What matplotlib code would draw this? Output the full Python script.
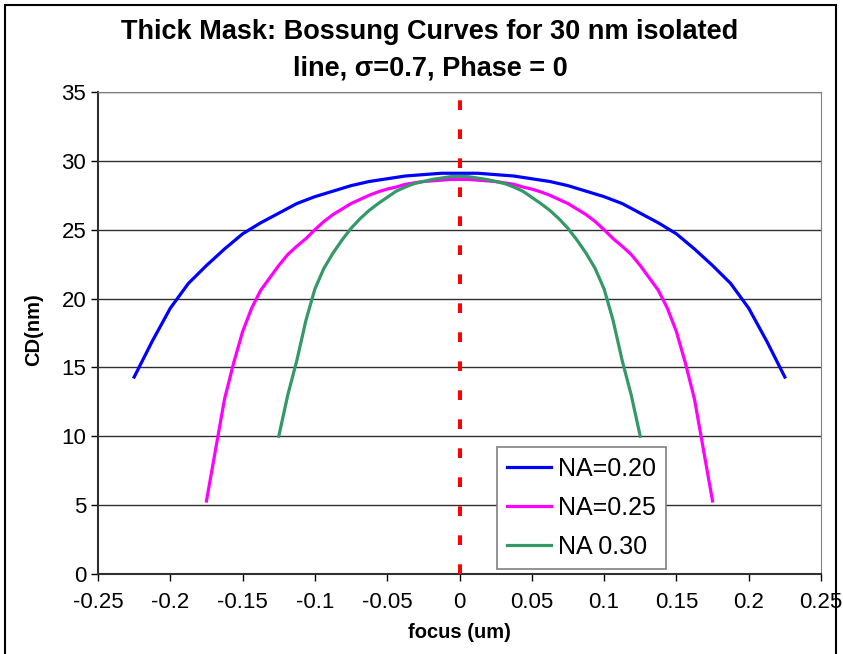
import matplotlib.pyplot as plt
from matplotlib.patches import Rectangle

plt.rcParams['font.family'] = ['Liberation Sans', 'DejaVu Sans']

# focus (um) and CD (nm) for each numerical aperture
focus_020 = [-0.225, -0.2125, -0.2, -0.1875, -0.175, -0.1625, -0.15, -0.1375, -0.125,
             -0.1125, -0.1, -0.0875, -0.075, -0.0625, -0.05, -0.0375, -0.025, -0.0125, 0.0,
             0.0125, 0.025, 0.0375, 0.05, 0.0625, 0.075, 0.0875, 0.1, 0.1125, 0.125,
             0.1375, 0.15, 0.1625, 0.175, 0.1875, 0.2, 0.2125, 0.225]
cd_020 = [14.3, 16.9, 19.3, 21.1, 22.4, 23.6, 24.7, 25.5, 26.2,
          26.9, 27.4, 27.8, 28.2, 28.5, 28.7, 28.9, 29.0, 29.1, 29.1,
          29.1, 29.0, 28.9, 28.7, 28.5, 28.2, 27.8, 27.4, 26.9, 26.2,
          25.5, 24.7, 23.6, 22.4, 21.1, 19.3, 16.9, 14.3]

focus_025 = [-0.175, -0.16875, -0.1625, -0.15625, -0.15, -0.14375, -0.1375, -0.13125,
             -0.125, -0.11875, -0.1125, -0.10625, -0.1, -0.09375, -0.0875, -0.08125,
             -0.075, -0.06875, -0.0625, -0.05625, -0.05, -0.04375, -0.0375, -0.03125,
             -0.025, -0.01875, -0.0125, -0.00625, 0.0,
             0.00625, 0.0125, 0.01875, 0.025, 0.03125, 0.0375, 0.04375, 0.05, 0.05625,
             0.0625, 0.06875, 0.075, 0.08125, 0.0875, 0.09375, 0.1, 0.10625, 0.1125,
             0.11875, 0.125, 0.13125, 0.1375, 0.14375, 0.15, 0.15625, 0.1625, 0.16875, 0.175]
cd_025 = [5.3, 9.0, 12.7, 15.3, 17.6, 19.3, 20.6, 21.5,
          22.4, 23.2, 23.8, 24.35, 25.0, 25.6, 26.1, 26.5,
          26.9, 27.2, 27.5, 27.75, 27.95, 28.1, 28.3, 28.4,
          28.5, 28.55, 28.6, 28.65, 28.65,
          28.65, 28.6, 28.55, 28.5, 28.4, 28.3, 28.1, 27.95, 27.75,
          27.5, 27.2, 26.9, 26.5, 26.1, 25.6, 25.0, 24.35, 23.8,
          23.2, 22.4, 21.5, 20.6, 19.3, 17.6, 15.3, 12.7, 9.0, 5.3]

focus_030 = [-0.125, -0.11875, -0.1125, -0.10625, -0.1, -0.09375, -0.0875, -0.08125,
             -0.075, -0.06875, -0.0625, -0.05625, -0.05, -0.04375, -0.0375, -0.03125,
             -0.025, -0.01875, -0.0125, -0.00625, 0.0,
             0.00625, 0.0125, 0.01875, 0.025, 0.03125, 0.0375, 0.04375, 0.05, 0.05625,
             0.0625, 0.06875, 0.075, 0.08125, 0.0875, 0.09375, 0.1, 0.10625, 0.1125,
             0.11875, 0.125]
cd_030 = [10.0, 13.0, 15.5, 18.4, 20.7, 22.2, 23.3, 24.25,
          25.1, 25.8, 26.4, 26.9, 27.35, 27.8, 28.1, 28.35,
          28.5, 28.65, 28.75, 28.85, 28.87,
          28.85, 28.75, 28.65, 28.5, 28.35, 28.1, 27.8, 27.35, 26.9,
          26.4, 25.8, 25.1, 24.25, 23.3, 22.2, 20.7, 18.4, 15.5,
          13.0, 10.0]

fig = plt.figure(figsize=(8.43, 6.54), dpi=100)
ax = fig.add_axes([98 / 843, 1 - 574 / 654, 723 / 843, 482 / 654])

# black frame round the whole chart
fig.patches.append(Rectangle((5 / 843, -0.05), 831 / 843, 1.05 - 5 / 654,
                             transform=fig.transFigure, fill=False,
                             edgecolor='black', linewidth=1.5))

ax.plot(focus_020, cd_020, color='#0000FF', linewidth=2.3, label='NA=0.20')
ax.plot(focus_025, cd_025, color='#FF00FF', linewidth=2.3, label='NA=0.25')
ax.plot(focus_030, cd_030, color='#339966', linewidth=2.3, label='NA 0.30')
ax.plot([0, 0], [0, 35], color='#FF0000', linewidth=2.9, dashes=(2.4, 4.8), zorder=5)

ax.set_xlim(-0.25, 0.25)
ax.set_ylim(0, 35)
ax.set_xticks([-0.25, -0.2, -0.15, -0.1, -0.05, 0, 0.05, 0.1, 0.15, 0.2, 0.25])
ax.set_xticklabels(['-0.25', '-0.2', '-0.15', '-0.1', '-0.05', '0',
                    '0.05', '0.1', '0.15', '0.2', '0.25'])
ax.set_yticks(range(0, 36, 5))
ax.tick_params(axis='both', labelsize=16, direction='out', length=5, width=1)
ax.tick_params(axis='x', pad=8)
ax.yaxis.grid(True, color='#303030', linewidth=1)
ax.set_axisbelow(True)

for side in ['top', 'right']:
    ax.spines[side].set_color('#808080')
for side in ['left', 'bottom']:
    ax.spines[side].set_color('#303030')
    ax.spines[side].set_linewidth(1.5)

fig.text(430 / 843, 1 - 32 / 654, 'Thick Mask: Bossung Curves for 30 nm isolated',
         ha='center', va='center', fontsize=19.5, fontweight='bold')
fig.text(430 / 843, 1 - 68 / 654, 'line, σ=0.7, Phase = 0',
         ha='center', va='center', fontsize=19.5, fontweight='bold')
fig.text(34 / 843, 1 - 330 / 654, 'CD(nm)', rotation=90,
         ha='center', va='center', fontsize=14.5, fontweight='bold')
fig.text(459 / 843, 1 - 633 / 654, 'focus (um)',
         ha='center', va='center', fontsize=14.5, fontweight='bold')

leg = ax.legend(loc='lower left', bbox_to_anchor=(0.552, 0.0104), fontsize=18,
                fancybox=False, framealpha=1, edgecolor='#808080',
                handlelength=1.75, handletextpad=0.3, labelspacing=0.6,
                borderpad=0.4, borderaxespad=0)
leg.get_frame().set_linewidth(1.2)

plt.savefig('out.png', dpi=100)
